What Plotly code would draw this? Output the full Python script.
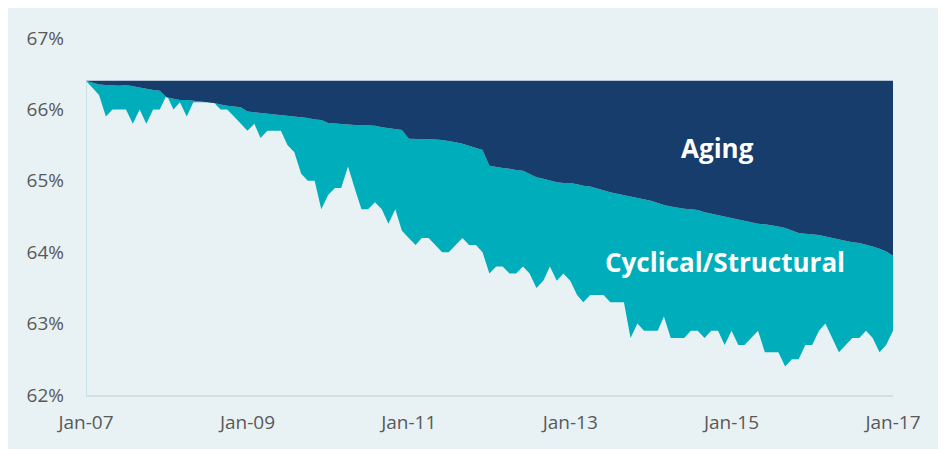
import pandas as pd
import plotly.graph_objects as go

# ---- data -------------------------------------------------------------
start_month = "2007-01-01"
n_months = 121
months = pd.date_range(start_month, periods=n_months, freq="MS")

base_rate = 66.4  # participation rate at Jan-07

# actual participation rate (%)
lfpr_actual = [
    66.4, 66.3, 66.2, 65.9, 66.0, 66.0, 66.0, 65.8, 66.0, 65.8, 66.0, 66.0,
    66.2, 66.0, 66.1, 65.9, 66.1, 66.1, 66.1, 66.1, 66.0, 66.0, 65.9, 65.8,
    65.7, 65.8, 65.6, 65.7, 65.7, 65.7, 65.5, 65.4, 65.1, 65.0, 65.0, 64.6,
    64.8, 64.9, 64.9, 65.2, 64.9, 64.6, 64.6, 64.7, 64.6, 64.4, 64.6, 64.3,
    64.2, 64.1, 64.2, 64.2, 64.1, 64.0, 64.0, 64.1, 64.2, 64.1, 64.1, 64.0,
    63.7, 63.8, 63.8, 63.7, 63.7, 63.8, 63.7, 63.5, 63.6, 63.8, 63.6, 63.7,
    63.6, 63.4, 63.3, 63.4, 63.4, 63.4, 63.3, 63.3, 63.3, 62.8, 63.0, 62.9,
    62.9, 62.9, 63.1, 62.8, 62.8, 62.8, 62.9, 62.9, 62.8, 62.9, 62.9, 62.7,
    62.9, 62.7, 62.7, 62.8, 62.9, 62.6, 62.6, 62.6, 62.4, 62.5, 62.5, 62.7,
    62.7, 62.9, 63.0, 62.8, 62.6, 62.7, 62.8, 62.8, 62.9, 62.8, 62.6, 62.7,
    62.9,
]

# participation rate implied by aging alone (%)
lfpr_aging = [
    66.40, 66.37, 66.35, 66.34, 66.33, 66.33, 66.34, 66.32, 66.31, 66.29, 66.27, 66.26,
    66.17, 66.15, 66.13, 66.13, 66.12, 66.12, 66.11, 66.09, 66.07, 66.05, 66.04, 66.03,
    65.97, 65.96, 65.95, 65.94, 65.93, 65.92, 65.91, 65.90, 65.89, 65.88, 65.86, 65.85,
    65.81, 65.80, 65.79, 65.78, 65.78, 65.78, 65.78, 65.77, 65.75, 65.74, 65.72, 65.71,
    65.59, 65.59, 65.59, 65.59, 65.58, 65.57, 65.56, 65.54, 65.52, 65.49, 65.46, 65.43,
    65.21, 65.19, 65.18, 65.17, 65.15, 65.14, 65.10, 65.05, 65.03, 65.00, 64.98, 64.97,
    64.97, 64.95, 64.93, 64.92, 64.89, 64.87, 64.84, 64.82, 64.80, 64.78, 64.76, 64.74,
    64.72, 64.69, 64.66, 64.64, 64.62, 64.61, 64.60, 64.59, 64.56, 64.54, 64.51, 64.49,
    64.47, 64.45, 64.43, 64.41, 64.40, 64.39, 64.38, 64.36, 64.34, 64.31, 64.27, 64.26,
    64.25, 64.24, 64.22, 64.20, 64.17, 64.16, 64.14, 64.13, 64.11, 64.08, 64.05, 64.01,
    63.95,
]

y_min, y_max = 62, 67
x_ticks = ["2007-01-01", "2009-01-01", "2011-01-01", "2013-01-01", "2015-01-01", "2017-01-01"]

# ---- styling ----------------------------------------------------------
BG = "#e8f1f4"
NAVY = "#173d6d"
TEAL = "#00adba"
TICK_COLOR = "#595959"
FONT = "Open Sans"

W, H = 946, 449
ML, MR, MT, MB = 78, 61, 30, 62
PW, PH = W - ML - MR, H - MT - MB

fig = go.Figure()

# bottom boundary (actual rate) - no fill
fig.add_trace(go.Scatter(x=months, y=lfpr_actual, mode="lines",
                         line=dict(width=0, color=TEAL), hoverinfo="skip",
                         showlegend=False))
# cyclical/structural band: between actual and aging
fig.add_trace(go.Scatter(x=months, y=lfpr_aging, mode="lines",
                         line=dict(width=0, color=TEAL), fill="tonexty",
                         fillcolor=TEAL, showlegend=False))
# aging band: between aging and base level
fig.add_trace(go.Scatter(x=months, y=[base_rate] * len(months), mode="lines",
                         line=dict(width=0, color=NAVY), fill="tonexty",
                         fillcolor=NAVY, showlegend=False))
# thin left edge line
fig.add_trace(go.Scatter(x=[months[0], months[0]], y=[y_min, base_rate], mode="lines",
                         line=dict(width=1, color="#a7d3dd"), hoverinfo="skip",
                         showlegend=False, cliponaxis=False))

fig.update_layout(
    width=W, height=H,
    margin=dict(l=ML, r=MR, t=MT, b=MB),
    paper_bgcolor=BG, plot_bgcolor=BG,
    font=dict(family=FONT, size=19, color=TICK_COLOR),
    showlegend=False,
)

fig.update_xaxes(
    range=[months[0], months[-1]],
    tickvals=x_ticks, tickformat="%b-%y",
    showgrid=False, zeroline=False,
    showline=True, linecolor="#d6dde0", linewidth=2,
    ticks="", ticklabelstandoff=9,
    tickfont=dict(family=FONT, size=19, color=TICK_COLOR),
)
fig.update_yaxes(
    range=[y_min, y_max], dtick=1, ticksuffix="%",
    showgrid=False, zeroline=False, showline=False,
    ticks="", ticklabelstandoff=21,
    tickfont=dict(family=FONT, size=19, color=TICK_COLOR),
)

def px_to_paper_x(px):
    return (px - ML) / PW

def px_to_paper_y(py):
    return (H - MB - py) / PH

fig.add_annotation(text="<b>Aging</b>", xref="paper", yref="paper",
                   x=px_to_paper_x(709), y=px_to_paper_y(140),
                   xanchor="center", yanchor="middle", showarrow=False,
                   font=dict(family=FONT, size=26, color="white"))
fig.add_annotation(text="<b>Cyclical/Structural</b>", xref="paper", yref="paper",
                   x=px_to_paper_x(717), y=px_to_paper_y(254),
                   xanchor="center", yanchor="middle", showarrow=False,
                   font=dict(family=FONT, size=26, color="white"))

fig.write_html("out.html")
